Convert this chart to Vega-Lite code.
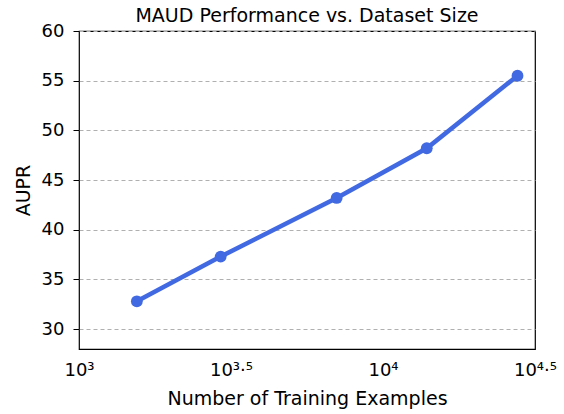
{
  "$schema": "https://vega.github.io/schema/vega-lite/v6.json",
  "width": 456,
  "height": 318,
  "autosize": {"type": "none"},
  "padding": {"left": 79, "top": 31, "right": 29, "bottom": 65},
  "title": {"text": "MAUD Performance vs. Dataset Size", "fontSize": 19, "fontWeight": "normal", "font": "DejaVu Sans", "color": "black", "offset": -4},
  "config": {
    "font": "DejaVu Sans",
    "view": {"stroke": "black", "strokeWidth": 1.2},
    "axis": {"labelFont": "DejaVu Sans", "titleFont": "DejaVu Sans", "labelColor": "black", "titleColor": "black", "titleFontWeight": "normal"}
  },
  "data": {"values": [
    {"examples": 1550, "aupr": 32.8},
    {"examples": 2925, "aupr": 37.3},
    {"examples": 7040, "aupr": 43.2},
    {"examples": 13930, "aupr": 48.2},
    {"examples": 27700, "aupr": 55.5}
  ]},
  "encoding": {
    "x": {
      "field": "examples", "type": "quantitative",
      "scale": {"type": "log", "domain": [1000, 31622.7766], "nice": false},
      "axis": {
        "title": "Number of Training Examples", "titleFontSize": 19, "titlePadding": 10,
        "values": [1000, 3162.27766, 10000, 31622.7766],
        "labelExpr": "datum.value < 2000 ? '10³' : datum.value < 5000 ? '10³·⁵' : datum.value < 20000 ? '10⁴' : '10⁴·⁵'",
        "labelFontSize": 18, "labelPadding": 12, "ticks": false, "domain": false, "grid": false,
        "labelFlush": false, "labelOverlap": false
      }
    },
    "y": {
      "field": "aupr", "type": "quantitative",
      "scale": {"domain": [28, 60], "nice": false, "zero": false},
      "axis": {
        "title": "AUPR", "titleFontSize": 19, "titlePadding": 8,
        "values": [30, 35, 40, 45, 50, 55, 60],
        "labelFontSize": 18, "labelPadding": 9, "tickSize": 6, "tickColor": "black", "domain": false,
        "grid": true, "gridDash": [4, 3], "gridColor": "#b0b0b0", "gridWidth": 1
      }
    }
  },
  "layer": [
    {"mark": {"type": "line", "color": "#4169E1", "strokeWidth": 4.5}},
    {"mark": {"type": "point", "filled": true, "color": "#4169E1", "size": 140, "opacity": 1}}
  ]
}
